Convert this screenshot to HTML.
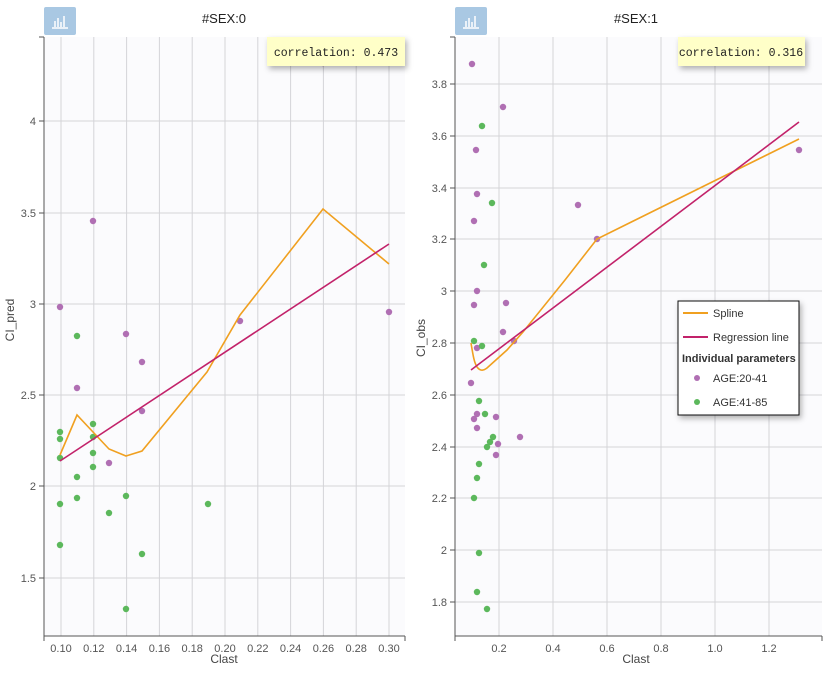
<!DOCTYPE html>
<html><head><meta charset="utf-8"><style>
body{margin:0;background:#fff;font-family:"Liberation Sans",sans-serif}
svg text{font-family:"Liberation Sans",sans-serif}
</style></head><body>
<svg width="834" height="669" xmlns="http://www.w3.org/2000/svg">
<defs><filter id="sh" x="-20%" y="-20%" width="150%" height="160%"><feDropShadow dx="2" dy="3" stdDeviation="3" flood-color="#000" flood-opacity="0.3"/></filter></defs>
<!-- LEFT -->
<rect x="44" y="37" width="361" height="599" fill="#fbfbfd"/>
<g stroke="#d4d4d8" stroke-width="1">
<line x1="61" y1="37" x2="61" y2="636"/><line x1="93.8" y1="37" x2="93.8" y2="636"/><line x1="126.6" y1="37" x2="126.6" y2="636"/><line x1="159.4" y1="37" x2="159.4" y2="636"/><line x1="192.2" y1="37" x2="192.2" y2="636"/><line x1="225" y1="37" x2="225" y2="636"/><line x1="257.8" y1="37" x2="257.8" y2="636"/><line x1="290.6" y1="37" x2="290.6" y2="636"/><line x1="323.4" y1="37" x2="323.4" y2="636"/><line x1="356.2" y1="37" x2="356.2" y2="636"/><line x1="389" y1="37" x2="389" y2="636"/>
<line x1="44" y1="121" x2="405" y2="121"/><line x1="44" y1="213" x2="405" y2="213"/><line x1="44" y1="304" x2="405" y2="304"/><line x1="44" y1="395" x2="405" y2="395"/><line x1="44" y1="486" x2="405" y2="486"/><line x1="44" y1="578" x2="405" y2="578"/>
</g>
<g stroke="#555" stroke-width="1"><line x1="44" y1="37" x2="44" y2="636"/><line x1="44" y1="636" x2="405" y2="636"/>
<line x1="39" y1="37" x2="44" y2="37"/><line x1="39" y1="121" x2="44" y2="121"/><line x1="39" y1="213" x2="44" y2="213"/><line x1="39" y1="304" x2="44" y2="304"/><line x1="39" y1="395" x2="44" y2="395"/><line x1="39" y1="486" x2="44" y2="486"/><line x1="39" y1="578" x2="44" y2="578"/>
<line x1="44" y1="636" x2="44" y2="641"/><line x1="405" y1="636" x2="405" y2="641"/></g>
<g font-size="11" fill="#555" text-anchor="end"><text x="36" y="125">4</text><text x="36" y="217">3.5</text><text x="36" y="308">3</text><text x="36" y="399">2.5</text><text x="36" y="490">2</text><text x="36" y="582">1.5</text></g>
<g font-size="11" fill="#555" text-anchor="middle"><text x="61" y="652">0.10</text><text x="93.8" y="652">0.12</text><text x="126.6" y="652">0.14</text><text x="159.4" y="652">0.16</text><text x="192.2" y="652">0.18</text><text x="225" y="652">0.20</text><text x="257.8" y="652">0.22</text><text x="290.6" y="652">0.24</text><text x="323.4" y="652">0.26</text><text x="356.2" y="652">0.28</text><text x="389" y="652">0.30</text></g>
<text x="224" y="663" font-size="12" fill="#444" text-anchor="middle">Clast</text>
<text transform="translate(14,320) rotate(-90)" font-size="12" fill="#444" text-anchor="middle">CI_pred</text>
<text x="224" y="23" font-size="13" fill="#222" text-anchor="middle">#SEX:0</text>
<rect x="44" y="7" width="32" height="28" rx="2" fill="#a9c8e3"/>
<g stroke="#fff" stroke-width="1.5"><line x1="52" y1="28" x2="68" y2="28"/><line x1="55" y1="27" x2="55" y2="21"/><line x1="58" y1="27" x2="58" y2="18"/><line x1="61" y1="27" x2="61" y2="22"/><line x1="64" y1="27" x2="64" y2="16"/></g>
<g fill="#b06fb3"><circle cx="93" cy="221" r="3.2"/><circle cx="60" cy="307" r="3.2"/><circle cx="126" cy="334" r="3.2"/><circle cx="142" cy="362" r="3.2"/><circle cx="77" cy="388" r="3.2"/><circle cx="142" cy="411" r="3.2"/><circle cx="109" cy="463" r="3.2"/><circle cx="240" cy="321" r="3.2"/><circle cx="389" cy="312" r="3.2"/><circle cx="323" cy="63" r="3.2"/></g>
<g fill="#5cb85c"><circle cx="77" cy="336" r="3.2"/><circle cx="93" cy="424" r="3.2"/><circle cx="60" cy="432" r="3.2"/><circle cx="60" cy="439" r="3.2"/><circle cx="93" cy="437" r="3.2"/><circle cx="60" cy="458" r="3.2"/><circle cx="93" cy="453" r="3.2"/><circle cx="93" cy="467" r="3.2"/><circle cx="77" cy="477" r="3.2"/><circle cx="77" cy="498" r="3.2"/><circle cx="60" cy="504" r="3.2"/><circle cx="126" cy="496" r="3.2"/><circle cx="109" cy="513" r="3.2"/><circle cx="208" cy="504" r="3.2"/><circle cx="60" cy="545" r="3.2"/><circle cx="142" cy="554" r="3.2"/><circle cx="126" cy="609" r="3.2"/></g>
<polyline points="60,455 77,415 93,432 109,449 126,456 142,451 207,372 240,315 323,209 389,264" fill="none" stroke="#f0a020" stroke-width="1.6"/>
<line x1="60" y1="461" x2="389" y2="244" stroke="#c2226a" stroke-width="1.6"/>
<rect x="267" y="37" width="138" height="29" fill="#ffffc8" filter="url(#sh)"/>
<text x="336" y="56" font-size="11.5" fill="#222" text-anchor="middle" style="font-family:'Liberation Mono',monospace">correlation: 0.473</text>
<!-- RIGHT -->
<rect x="455" y="37" width="367" height="599" fill="#fbfbfd"/>
<g stroke="#d4d4d8" stroke-width="1">
<line x1="499" y1="37" x2="499" y2="636"/><line x1="553" y1="37" x2="553" y2="636"/><line x1="607" y1="37" x2="607" y2="636"/><line x1="661" y1="37" x2="661" y2="636"/><line x1="715" y1="37" x2="715" y2="636"/><line x1="769" y1="37" x2="769" y2="636"/>
<line x1="455" y1="84" x2="822" y2="84"/><line x1="455" y1="136" x2="822" y2="136"/><line x1="455" y1="188" x2="822" y2="188"/><line x1="455" y1="239" x2="822" y2="239"/><line x1="455" y1="291" x2="822" y2="291"/><line x1="455" y1="343" x2="822" y2="343"/><line x1="455" y1="395" x2="822" y2="395"/><line x1="455" y1="447" x2="822" y2="447"/><line x1="455" y1="498" x2="822" y2="498"/><line x1="455" y1="550" x2="822" y2="550"/><line x1="455" y1="602" x2="822" y2="602"/>
</g>
<g stroke="#555" stroke-width="1"><line x1="455" y1="37" x2="455" y2="636"/><line x1="455" y1="636" x2="822" y2="636"/>
<line x1="450" y1="37" x2="455" y2="37"/><line x1="450" y1="84" x2="455" y2="84"/><line x1="450" y1="136" x2="455" y2="136"/><line x1="450" y1="188" x2="455" y2="188"/><line x1="450" y1="239" x2="455" y2="239"/><line x1="450" y1="291" x2="455" y2="291"/><line x1="450" y1="343" x2="455" y2="343"/><line x1="450" y1="395" x2="455" y2="395"/><line x1="450" y1="447" x2="455" y2="447"/><line x1="450" y1="498" x2="455" y2="498"/><line x1="450" y1="550" x2="455" y2="550"/><line x1="450" y1="602" x2="455" y2="602"/>
<line x1="455" y1="636" x2="455" y2="641"/><line x1="822" y1="636" x2="822" y2="641"/></g>
<g font-size="11" fill="#555" text-anchor="end"><text x="447" y="88">3.8</text><text x="447" y="140">3.6</text><text x="447" y="192">3.4</text><text x="447" y="243">3.2</text><text x="447" y="295">3</text><text x="447" y="347">2.8</text><text x="447" y="399">2.6</text><text x="447" y="451">2.4</text><text x="447" y="502">2.2</text><text x="447" y="554">2</text><text x="447" y="606">1.8</text></g>
<g font-size="11" fill="#555" text-anchor="middle"><text x="499" y="652">0.2</text><text x="553" y="652">0.4</text><text x="607" y="652">0.6</text><text x="661" y="652">0.8</text><text x="715" y="652">1.0</text><text x="769" y="652">1.2</text></g>
<text x="636" y="663" font-size="12" fill="#444" text-anchor="middle">Clast</text>
<text transform="translate(425,338) rotate(-90)" font-size="12" fill="#444" text-anchor="middle">CI_obs</text>
<text x="636" y="23" font-size="13" fill="#222" text-anchor="middle">#SEX:1</text>
<rect x="455" y="7" width="32" height="28" rx="2" fill="#a9c8e3"/>
<g stroke="#fff" stroke-width="1.5"><line x1="463" y1="28" x2="479" y2="28"/><line x1="466" y1="27" x2="466" y2="21"/><line x1="469" y1="27" x2="469" y2="18"/><line x1="472" y1="27" x2="472" y2="22"/><line x1="475" y1="27" x2="475" y2="16"/></g>
<g fill="#b06fb3"><circle cx="472" cy="64" r="3.2"/><circle cx="503" cy="107" r="3.2"/><circle cx="476" cy="150" r="3.2"/><circle cx="477" cy="194" r="3.2"/><circle cx="474" cy="221" r="3.2"/><circle cx="578" cy="205" r="3.2"/><circle cx="597" cy="239" r="3.2"/><circle cx="799" cy="150" r="3.2"/><circle cx="477" cy="291" r="3.2"/><circle cx="474" cy="305" r="3.2"/><circle cx="506" cy="303" r="3.2"/><circle cx="503" cy="332" r="3.2"/><circle cx="514" cy="341" r="3.2"/><circle cx="477" cy="348" r="3.2"/><circle cx="471" cy="383" r="3.2"/><circle cx="477" cy="414" r="3.2"/><circle cx="474" cy="419" r="3.2"/><circle cx="477" cy="428" r="3.2"/><circle cx="496" cy="417" r="3.2"/><circle cx="498" cy="444" r="3.2"/><circle cx="496" cy="455" r="3.2"/><circle cx="520" cy="437" r="3.2"/></g>
<g fill="#5cb85c"><circle cx="482" cy="126" r="3.2"/><circle cx="492" cy="203" r="3.2"/><circle cx="484" cy="265" r="3.2"/><circle cx="474" cy="341" r="3.2"/><circle cx="482" cy="346" r="3.2"/><circle cx="479" cy="401" r="3.2"/><circle cx="485" cy="414" r="3.2"/><circle cx="493" cy="437" r="3.2"/><circle cx="490" cy="442" r="3.2"/><circle cx="487" cy="447" r="3.2"/><circle cx="479" cy="464" r="3.2"/><circle cx="477" cy="478" r="3.2"/><circle cx="474" cy="498" r="3.2"/><circle cx="479" cy="553" r="3.2"/><circle cx="477" cy="592" r="3.2"/><circle cx="487" cy="609" r="3.2"/></g>
<path d="M471,343 C473,355 474,362 477,367 C480,371 483,371 487,368 L507,350 L523,332 L565,280 L597,239 L799,139" fill="none" stroke="#f0a020" stroke-width="1.6"/>
<line x1="471" y1="370" x2="799" y2="122" stroke="#c2226a" stroke-width="1.6"/>
<rect x="678" y="37" width="127" height="29" fill="#ffffc8" filter="url(#sh)"/>
<text x="741" y="56" font-size="11.5" fill="#222" text-anchor="middle" style="font-family:'Liberation Mono',monospace">correlation: 0.316</text>
<rect x="678" y="301" width="121" height="114" fill="#fff" stroke="#111" stroke-width="1" filter="url(#sh)"/>
<line x1="683" y1="313" x2="708" y2="313" stroke="#f0a020" stroke-width="2"/>
<text x="713" y="317" font-size="11" fill="#333">Spline</text>
<line x1="683" y1="337" x2="708" y2="337" stroke="#c2226a" stroke-width="2"/>
<text x="713" y="341" font-size="11" fill="#333">Regression line</text>
<text x="682" y="362" font-size="11" font-weight="bold" fill="#333">Individual parameters</text>
<circle cx="697" cy="378" r="3" fill="#b06fb3"/><text x="713" y="382" font-size="11" fill="#333">AGE:20-41</text>
<circle cx="697" cy="402" r="3" fill="#5cb85c"/><text x="713" y="406" font-size="11" fill="#333">AGE:41-85</text>
</svg>
</body></html>
